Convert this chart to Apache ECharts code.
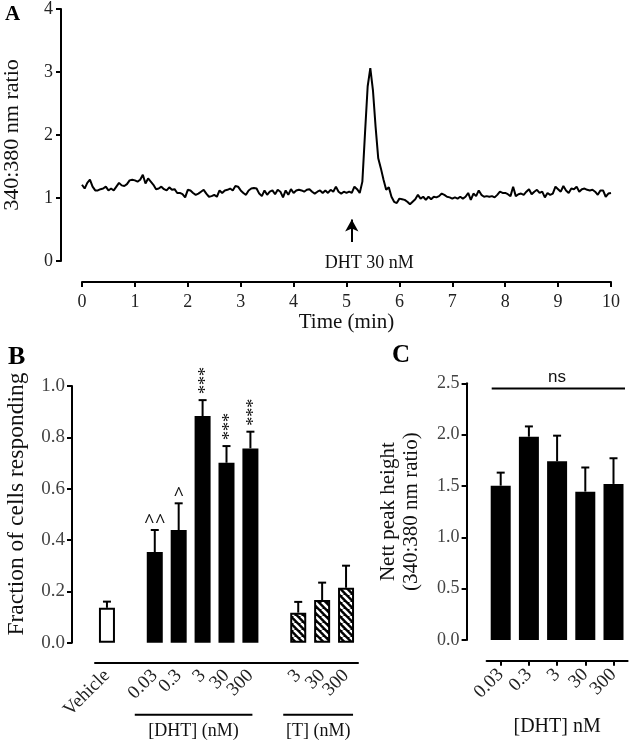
<!DOCTYPE html>
<html><head><meta charset="utf-8">
<script src="https://cdn.jsdelivr.net/npm/echarts@6/dist/echarts.min.js"></script>
<style>html,body{margin:0;padding:0;background:#fff}#c{width:630px;height:742px}</style>
</head><body><div id="c"></div>
<script>
// ---------- Panel A: trace ----------
const traceTime = [0,0.05,0.1,0.15,0.2,0.25,0.3,0.35,0.4,0.45,0.5,0.55,0.6,0.65,0.7,0.75,0.8,0.85,0.9,0.95,
1.0,1.05,1.1,1.15,1.2,1.25,1.3,1.35,1.4,1.45,1.5,1.55,1.6,1.65,1.7,1.75,1.8,1.85,1.9,1.95,
2.0,2.05,2.1,2.15,2.2,2.25,2.3,2.35,2.4,2.45,2.5,2.55,2.6,2.65,2.7,2.75,2.8,2.85,2.9,2.95,
3.0,3.05,3.1,3.15,3.2,3.25,3.3,3.35,3.4,3.45,3.5,3.55,3.6,3.65,3.7,3.75,3.8,3.85,3.9,3.95,
4.0,4.05,4.1,4.15,4.2,4.25,4.3,4.35,4.4,4.45,4.5,4.55,4.6,4.65,4.7,4.75,4.8,4.85,4.9,4.95,
5.0,5.05,5.1,5.15,5.2,5.25,5.3,5.35,5.4,5.45,5.5,5.55,5.6,5.65,5.7,5.75,5.8,5.85,5.9,5.95,
6.0,6.05,6.1,6.15,6.2,6.25,6.3,6.35,6.4,6.45,6.5,6.55,6.6,6.65,6.7,6.75,6.8,6.85,6.9,6.95,
7.0,7.05,7.1,7.15,7.2,7.25,7.3,7.35,7.4,7.45,7.5,7.55,7.6,7.65,7.7,7.75,7.8,7.85,7.9,7.95,
8.0,8.05,8.1,8.15,8.2,8.25,8.3,8.35,8.4,8.45,8.5,8.55,8.6,8.65,8.7,8.75,8.8,8.85,8.9,8.95,
9.0,9.05,9.1,9.15,9.2,9.25,9.3,9.35,9.4,9.45,9.5,9.55,9.6,9.65,9.7,9.75,9.8,9.85,9.9,9.95,10.0];
const traceRatio = [1.21,1.15,1.24,1.29,1.18,1.12,1.12,1.14,1.15,1.18,1.12,1.15,1.12,1.18,1.24,1.20,1.19,1.22,1.28,1.29,
1.28,1.26,1.29,1.37,1.23,1.31,1.26,1.21,1.14,1.15,1.18,1.14,1.12,1.17,1.13,1.14,1.08,1.08,1.06,1.01,
1.13,1.12,1.08,1.05,1.07,1.10,1.13,1.07,1.02,1.03,1.05,1.02,1.12,1.08,1.12,1.13,1.15,1.12,1.19,1.18,
1.12,1.08,1.05,1.12,1.15,1.16,1.15,1.07,1.03,1.12,1.05,1.10,1.12,1.06,1.13,1.10,1.01,1.12,1.05,1.14,
1.08,1.12,1.13,1.12,1.10,1.13,1.14,1.10,1.07,1.10,1.12,1.08,1.12,1.08,1.13,1.10,1.18,1.10,1.07,1.10,
1.08,1.10,1.08,1.18,1.14,1.08,1.26,2.03,2.77,3.06,2.71,2.13,1.63,1.47,1.29,1.13,1.17,1.02,0.94,0.92,
0.99,0.98,0.97,0.94,0.90,0.94,0.98,1.05,0.99,1.02,0.97,1.02,0.98,1.02,1.01,1.03,1.07,1.05,1.02,1.01,
0.99,1.01,0.99,1.02,0.99,1.02,1.08,0.97,1.07,1.03,1.12,1.05,1.02,1.03,1.02,1.03,1.01,1.05,1.10,1.08,
1.08,1.06,1.03,1.18,1.03,1.06,1.07,1.05,1.10,1.14,1.06,1.10,1.13,1.08,1.10,1.01,1.08,1.05,1.07,1.18,
1.14,1.10,1.19,1.12,1.08,1.15,1.14,1.18,1.10,1.14,1.15,1.13,1.12,1.13,1.10,1.05,1.12,1.12,1.02,1.07,1.08];
const stimTime = 5.1;          // arrow position (min)
const stimLabel = 'DHT 30 nM';

// ---------- Panel B ----------
const bCategories = ['Vehicle', ' ', '0.03', '0.3', '3', '30', '300', '  ', '3', '30', '300'];
const bGroups     = ['veh', null, 'dht', 'dht', 'dht', 'dht', 'dht', null, 't', 't', 't'];
const bMeans      = [0.136, null, 0.353, 0.439, 0.883, 0.701, 0.757, null, 0.117, 0.166, 0.214];
const bSem        = [0.024, null, 0.086, 0.104, 0.062, 0.065, 0.065, null, 0.042, 0.068, 0.086];
const bMarks      = ['', '', '^^', '^', '***', '***', '***', '', '', '', ''];
const bYName      = 'Fraction of cells responding';

// ---------- Panel C ----------
const cCategories = ['0.03', '0.3', '3', '30', '300'];
const cMeans      = [1.503, 1.98, 1.74, 1.445, 1.52];
const cSem        = [0.127, 0.10, 0.25, 0.235, 0.25];

const SERIF = '"Liberation Serif", "Times New Roman", serif';
const SANS = '"Liberation Sans", Arial, sans-serif';
const TXT = '#222';

function hatchCanvas() {
  const s = 7, c = document.createElement('canvas');
  c.width = s; c.height = s;
  const g = c.getContext('2d');
  g.fillStyle = '#000'; g.fillRect(0, 0, s, s);
  g.strokeStyle = '#fff'; g.lineWidth = 2.6;
  for (const k of [-s, 0, s]) { g.beginPath(); g.moveTo(k, 0); g.lineTo(k + s, s); g.stroke(); }
  return c;
}
const hatch = { image: hatchCanvas(), repeat: 'repeat' };

function axisLineStyle() { return { show: true, onZero: false, lineStyle: { color: '#000', width: 2 } }; }
function tickStyle(show) { return { show: show, length: 5, lineStyle: { color: '#000', width: 2 } }; }

function errRender(marks) {
  return function (params, api) {
    const i = api.value(0), m = api.value(1), s = api.value(2);
    const p0 = api.coord([i, m]), p1 = api.coord([i, m + s]);
    const ch = [
      { type: 'line', shape: { x1: p0[0], y1: p0[1], x2: p1[0], y2: p1[1] }, style: { stroke: '#000', lineWidth: 2 } },
      { type: 'line', shape: { x1: p1[0] - 4, y1: p1[1], x2: p1[0] + 4, y2: p1[1] }, style: { stroke: '#000', lineWidth: 2 } }
    ];
    const mk = marks ? marks[i] : '';
    if (mk === '***') {
      ch.push({ type: 'text', x: p1[0] + 4, y: p1[1] - 6, rotation: Math.PI / 2,
        style: { text: mk, fill: '#111', font: '18px ' + SERIF, align: 'left', verticalAlign: 'middle' } });
    } else if (mk) {
      ch.push({ type: 'text', x: p1[0], y: p1[1] - 8,
        style: { text: mk, fill: '#111', font: 'bold 19px ' + SERIF, align: 'center', verticalAlign: 'middle' } });
    }
    return { type: 'group', children: ch };
  };
}

const bBarData = bMeans.map((v, i) => {
  if (v == null) return null;
  const g = bGroups[i];
  let color = '#000';
  if (g === 'veh') color = '#fff';
  if (g === 't') color = hatch;
  return { value: v, itemStyle: { color: color, borderColor: '#000', borderWidth: 2 } };
});
const bErrData = [];
bMeans.forEach((v, i) => { if (v != null) bErrData.push([i, v, bSem[i]]); });
const cErrData = cMeans.map((v, i) => [i, v, cSem[i]]);

const chart = echarts.init(document.getElementById('c'));
chart.setOption({
  animation: false,
  backgroundColor: '#fff',
  grid: [
    { left: 82, top: 9, width: 529, height: 252, outerBoundsMode: 'none' },
    { left: 95, top: 386, width: 263, height: 256.7, outerBoundsMode: 'none' },
    { left: 486.6, top: 383.3, width: 141, height: 256.7, outerBoundsMode: 'none' }
  ],
  xAxis: [
    { gridIndex: 0, type: 'value', min: 0, max: 10, interval: 1, offset: 21,
      axisLine: axisLineStyle(), axisTick: tickStyle(true), splitLine: { show: false },
      axisLabel: { fontFamily: SERIF, fontSize: 18, color: TXT, margin: 11 },
      name: 'Time (min)', nameLocation: 'middle', nameGap: 30,
      nameTextStyle: { fontFamily: SERIF, fontSize: 21, color: '#111' } },
    { gridIndex: 1, type: 'category', data: bCategories, offset: 20,
      axisLine: axisLineStyle(), axisTick: { show: false },
      axisLabel: { fontFamily: SERIF, fontSize: 19, color: TXT, rotate: 45, margin: 10, interval: 0 } },
    { gridIndex: 2, type: 'category', data: cCategories, offset: 20.7,
      axisLine: axisLineStyle(), axisTick: Object.assign(tickStyle(true), { alignWithLabel: true }),
      axisLabel: { fontFamily: SERIF, fontSize: 19, color: TXT, rotate: 45, margin: 11, interval: 0 },
      name: '[DHT] nM', nameLocation: 'middle', nameGap: 56,
      nameTextStyle: { fontFamily: SERIF, fontSize: 20, color: '#111' } }
  ],
  yAxis: [
    { gridIndex: 0, type: 'value', min: 0, max: 4, interval: 1, offset: 21,
      axisLine: axisLineStyle(), axisTick: tickStyle(true), splitLine: { show: false },
      axisLabel: { fontFamily: SERIF, fontSize: 18, color: TXT, margin: 8 },
      name: '340:380 nm ratio', nameLocation: 'middle', nameGap: 38, nameRotate: 90,
      nameTextStyle: { fontFamily: SERIF, fontSize: 22, color: '#111' } },
    { gridIndex: 1, type: 'value', min: 0, max: 1, interval: 0.2, offset: 23,
      axisLine: axisLineStyle(), axisTick: tickStyle(true), splitLine: { show: false },
      axisLabel: { fontFamily: SERIF, fontSize: 19, color: '#444', margin: 7, formatter: v => v.toFixed(1) } },
    { gridIndex: 2, type: 'value', min: 0, max: 2.5, interval: 0.5, offset: 20,
      axisLine: axisLineStyle(), axisTick: tickStyle(true), splitLine: { show: false },
      axisLabel: { fontFamily: SERIF, fontSize: 18, color: '#444', margin: 7, formatter: v => v.toFixed(1) },
      name: 'Nett peak height\n(340:380 nm ratio)', nameLocation: 'middle', nameGap: 44, nameRotate: 90,
      nameTextStyle: { fontFamily: SERIF, fontSize: 21, lineHeight: 23, color: '#111' } }
  ],
  series: [
    { type: 'line', xAxisIndex: 0, yAxisIndex: 0, showSymbol: false, symbol: 'none',
      data: traceTime.map((t, i) => [t, traceRatio[i]]),
      lineStyle: { color: '#000', width: 2 },
      markLine: { silent: true, symbol: ['none', 'arrow'], symbolSize: [10, 12], label: { show: false },
        lineStyle: { color: '#000', width: 2, type: 'solid' },
        data: [[{ coord: [stimTime, 0.3] }, { coord: [stimTime, 0.66] }]] } },
    { type: 'bar', xAxisIndex: 1, yAxisIndex: 1, barWidth: 16, data: bBarData },
    { type: 'custom', xAxisIndex: 1, yAxisIndex: 1, clip: false, renderItem: errRender(bMarks),
      data: bErrData, z: 5 },
    { type: 'bar', xAxisIndex: 2, yAxisIndex: 2, barWidth: 20,
      itemStyle: { color: '#000', borderColor: '#000', borderWidth: 0 }, data: cMeans },
    { type: 'custom', xAxisIndex: 2, yAxisIndex: 2, clip: false, renderItem: errRender(null),
      data: cErrData, z: 5 }
  ]
});

// ---------- annotations (positioned through the axes) ----------
function px(axes, pt) { return chart.convertToPixel(axes, pt); }
const A = { xAxisIndex: 0, yAxisIndex: 0 };
const stimTxt = px(A, [stimTime + 0.33, -0.03]);
const bx = i => px({ xAxisIndex: 1 }, i);
const cx = i => px({ xAxisIndex: 2 }, i);
const bBase = px({ yAxisIndex: 1 }, 0);
const bNameY = px({ yAxisIndex: 1 }, 0.54);
const bAxisX = bx(0) - 12 - 23;
const cNsY = px({ yAxisIndex: 2 }, 2.45);
const g = [
  { type: 'text', left: 5, top: 4, style: { text: 'A', font: 'bold 21px ' + SERIF, fill: '#000' } },
  { type: 'text', left: 8, top: 344, style: { text: 'B', font: 'bold 26px ' + SERIF, fill: '#000' } },
  { type: 'text', left: 392, top: 343, style: { text: 'C', font: 'bold 25px ' + SERIF, fill: '#000' } },
  { type: 'text', x: bAxisX - 55, y: bNameY, rotation: Math.PI / 2,
    style: { text: bYName, font: '23.5px ' + SERIF, fill: '#111', align: 'center', verticalAlign: 'middle' } },
  { type: 'text', x: stimTxt[0], y: stimTxt[1], style: { text: stimLabel, font: '18px ' + SERIF, fill: '#111', align: 'center', verticalAlign: 'middle' } },
  // B group underlines & labels
  { type: 'line', shape: { x1: bx(2) - 20, y1: bBase + 72, x2: bx(6) + 2, y2: bBase + 72 }, style: { stroke: '#000', lineWidth: 2 } },
  { type: 'line', shape: { x1: bx(8) - 15, y1: bBase + 72, x2: bx(10) + 7, y2: bBase + 72 }, style: { stroke: '#000', lineWidth: 2 } },
  { type: 'text', x: (bx(2) - 20 + bx(6) + 2) / 2, y: bBase + 89, style: { text: '[DHT] (nM)', font: '18px ' + SERIF, fill: '#111', align: 'center', verticalAlign: 'middle' } },
  { type: 'text', x: (bx(8) - 15 + bx(10) + 7) / 2, y: bBase + 89, style: { text: '[T] (nM)', font: '18px ' + SERIF, fill: '#111', align: 'center', verticalAlign: 'middle' } },
  // C "ns" bracket
  { type: 'line', shape: { x1: cx(0) - 9, y1: cNsY, x2: cx(4) + 11.5, y2: cNsY }, style: { stroke: '#000', lineWidth: 2 } },
  { type: 'text', x: cx(2), y: cNsY - 11, style: { text: 'ns', font: '17px ' + SANS, fill: '#111', align: 'center', verticalAlign: 'middle' } }
];
chart.setOption({ graphic: g });
</script>
</body></html>
